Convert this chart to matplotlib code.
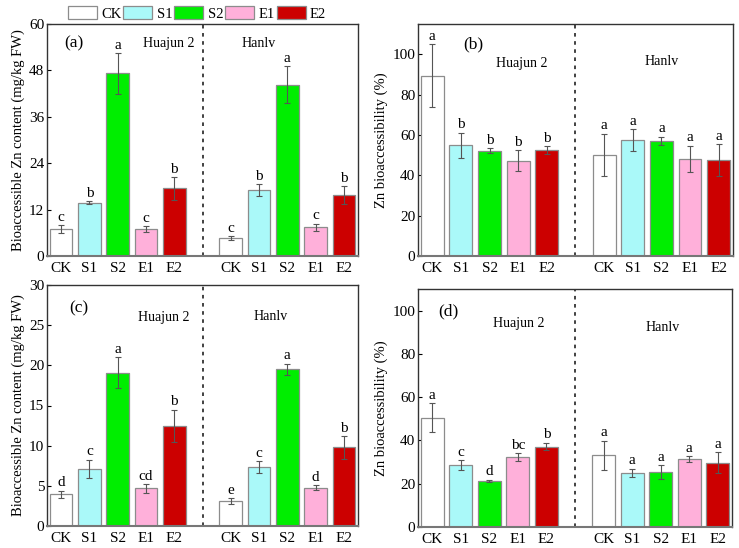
import matplotlib
matplotlib.use("Agg")
import matplotlib.pyplot as plt
import numpy as np
from matplotlib.patches import Patch

plt.rcParams['font.family'] = ['Liberation Serif', 'DejaVu Serif']
plt.rcParams['mathtext.fontset'] = 'stix'

treatments = ["CK", "S1", "S2", "E1", "E2"]
cultivars = ["Huajun 2", "Hanlv"]
colors = ["#FFFFFF", "#AAF9F9", "#00EE00", "#FFB0DA", "#CC0000"]

# Panel (a): bioaccessible Zn content (mg/kg FW)
a_hj = [6.9, 13.8, 47.2, 6.9, 17.5]
a_hj_err = [1.0, 0.4, 5.3, 0.8, 2.9]
a_hl = [4.7, 17.0, 44.3, 7.4, 15.8]
a_hl_err = [0.5, 1.6, 4.8, 1.0, 2.3]
a_hj_let = ["c", "b", "a", "c", "b"]
a_hl_let = ["c", "b", "a", "c", "b"]

# Panel (b): Zn bioaccessibility (%)
b_hj = [89.4, 54.9, 52.2, 47.3, 52.4]
b_hj_err = [15.6, 6.2, 1.1, 5.0, 2.0]
b_hl = [50.2, 57.5, 57.0, 48.1, 47.6]
b_hl_err = [10.5, 5.4, 2.2, 6.6, 7.8]
b_hj_let = ["a", "b", "b", "b", "b"]
b_hl_let = ["a", "a", "a", "a", "a"]

# Panel (c): bioaccessible Zn content (mg/kg FW)
c_hj = [3.96, 7.08, 19.1, 4.67, 12.46]
c_hj_err = [0.45, 1.15, 1.95, 0.55, 2.0]
c_hl = [3.08, 7.33, 19.5, 4.75, 9.8]
c_hl_err = [0.4, 0.75, 0.7, 0.3, 1.4]
c_hj_let = ["d", "c", "a", "cd", "b"]
c_hl_let = ["e", "c", "a", "d", "b"]

# Panel (d): Zn bioaccessibility (%)
d_hj = [50.4, 28.6, 21.3, 32.2, 37.2]
d_hj_err = [6.7, 2.4, 0.5, 1.8, 1.7]
d_hl = [33.2, 25.0, 25.4, 31.4, 29.7]
d_hl_err = [6.7, 1.9, 3.1, 1.2, 4.9]
d_hj_let = ["a", "c", "d", "bc", "b"]
d_hl_let = ["a", "a", "a", "a", "a"]

W, H = 739, 548
fig = plt.figure(figsize=(W / 100, H / 100), dpi=100)

def rect(l, r, t, b):
    return [l / W, 1 - b / H, (r - l) / W, (b - t) / H]

panels = [
    dict(pos=rect(47, 358, 24, 256), hj=(a_hj, a_hj_err, a_hj_let), hl=(a_hl, a_hl_err, a_hl_let),
         ylim=60, yticks=np.arange(0, 61, 12), ylabel="Bioaccessible Zn content (mg/kg FW)",
         tag="(a)", tagxy=(0.055, 0.915), hjxy=(0.39, 0.915), hlxy=(0.68, 0.915)),
    dict(pos=rect(418, 733, 24, 256), hj=(b_hj, b_hj_err, b_hj_let), hl=(b_hl, b_hl_err, b_hl_let),
         ylim=115, yticks=np.arange(0, 101, 20), ylabel="Zn bioaccessibility (%)",
         tag="(b)", tagxy=(0.145, 0.91), hjxy=(0.33, 0.83), hlxy=(0.775, 0.84)),
    dict(pos=rect(47, 358, 285, 526), hj=(c_hj, c_hj_err, c_hj_let), hl=(c_hl, c_hl_err, c_hl_let),
         ylim=30, yticks=np.arange(0, 31, 5), ylabel="Bioaccessible Zn content (mg/kg FW)",
         tag="(c)", tagxy=(0.07, 0.905), hjxy=(0.375, 0.865), hlxy=(0.72, 0.87)),
    dict(pos=rect(418, 732, 289, 527), hj=(d_hj, d_hj_err, d_hj_let), hl=(d_hl, d_hl_err, d_hl_let),
         ylim=110, yticks=np.arange(0, 101, 20), ylabel="Zn bioaccessibility (%)",
         tag="(d)", tagxy=(0.065, 0.905), hjxy=(0.32, 0.855), hlxy=(0.78, 0.84)),
]

x_hj = np.arange(5)
x_hl = np.arange(5) + 6

for p in panels:
    ax = fig.add_axes(p["pos"])
    for xs, (vals, errs, lets) in ((x_hj, p["hj"]), (x_hl, p["hl"])):
        ax.bar(xs, vals, width=0.8, color=colors, edgecolor="#8C8C8C", linewidth=0.9, zorder=2)
        ax.errorbar(xs, vals, yerr=errs, fmt="none", ecolor="#555555", elinewidth=0.8,
                    capsize=2.2, capthick=0.8, zorder=3)
        for x, v, e, l in zip(xs, vals, errs, lets):
            ax.annotate(l, (x, v + e), xytext=(0, 1), textcoords="offset points",
                        ha="center", va="bottom", fontsize=11)
    ax.axvline(5, color="#333333", linestyle=(0, (2, 2.5)), linewidth=1.3, zorder=1)
    ax.set_xlim(-0.5, 10.5)
    ax.set_ylim(0, p["ylim"])
    ax.set_yticks(p["yticks"])
    ax.set_xticks(list(x_hj) + list(x_hl))
    ax.set_xticklabels(treatments * 2)
    ax.tick_params(axis="x", length=0, labelsize=11, pad=4)
    ax.tick_params(axis="y", direction="in", length=3, labelsize=11, pad=2)
    ax.set_ylabel(p["ylabel"], fontsize=10.5, labelpad=3)
    for s in ax.spines.values():
        s.set_color("#333333")
        s.set_linewidth(1.0)
    ax.spines["bottom"].set_color("#777777")
    ax.spines["bottom"].set_linewidth(1.5)
    ax.text(*p["tagxy"], p["tag"], transform=ax.transAxes, fontsize=12.5, ha="left", va="center")
    ax.text(*p["hjxy"], cultivars[0], transform=ax.transAxes, fontsize=10, ha="center", va="center")
    ax.text(*p["hlxy"], cultivars[1], transform=ax.transAxes, fontsize=10, ha="center", va="center")

handles = [Patch(facecolor=c, edgecolor="#8C8C8C", linewidth=0.9) for c in colors]
fig.legend(handles, treatments, loc="center", bbox_to_anchor=(197 / W, 1 - 13.5 / H), ncol=5,
           frameon=False, fontsize=10.5, handlelength=2.0, handleheight=0.9,
           handletextpad=0.3, columnspacing=0.12, borderpad=0)

fig.savefig("out.png", dpi=100)
